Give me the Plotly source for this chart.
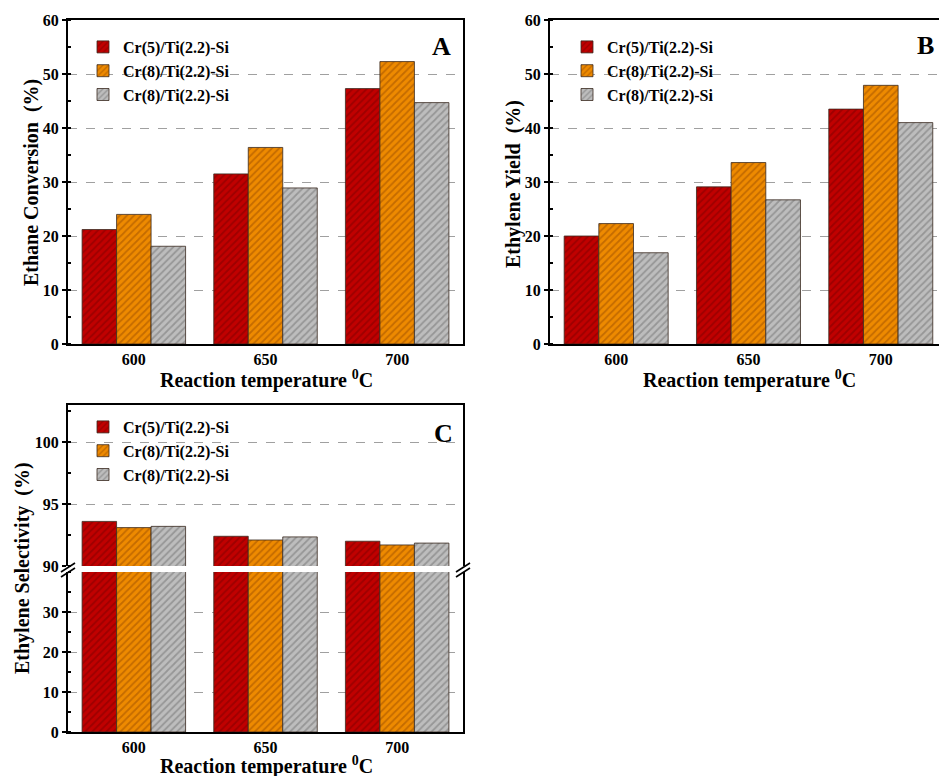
import plotly.graph_objects as go

# ---------------- data ----------------
categories = ["600", "650", "700"]
series_names = ["Cr(5)/Ti(2.2)-Si", "Cr(8)/Ti(2.2)-Si", "Cr(8)/Ti(2.2)-Si"]

conversion_red = [21.2, 31.5, 47.3]
conversion_orange = [24.0, 36.4, 52.3]
conversion_gray = [18.1, 28.9, 44.7]

yield_red = [20.0, 29.1, 43.5]
yield_orange = [22.3, 33.6, 47.9]
yield_gray = [16.9, 26.7, 41.0]

selectivity_red = [93.6, 92.4, 92.0]
selectivity_orange = [93.1, 92.1, 91.7]
selectivity_gray = [93.2, 92.35, 91.85]

y_ticks_main = [0, 10, 20, 30, 40, 50, 60]
y_ticks_low = [0, 10, 20, 30]
y_ticks_high = [90, 95, 100]

# ---------------- styles ----------------
base_colors = ["#c00000", "#ee8a00", "#bdbdbd"]
hatch_colors = ["#7a0000", "#9a4c00", "#707070"]
FONT = "Liberation Serif"
W, H = 939, 776


def px(x):
    return x / W


def py(y):
    return 1 - y / H


fig = go.Figure()


def add_bars(values_list, xa, ya, legend, showlegend=True):
    for i, vals in enumerate(values_list):
        fig.add_trace(go.Bar(
            x=categories, y=vals, name=series_names[i],
            xaxis=xa, yaxis=ya, legend=legend, showlegend=showlegend,
            marker=dict(
                color=base_colors[i],
                line=dict(color="#3a2a20", width=0.8),
                pattern=dict(shape="/", fgcolor=hatch_colors[i], size=5,
                             solidity=0.35, fillmode="overlay"),
            ),
        ))


add_bars([conversion_red, conversion_orange, conversion_gray], "x", "y", "legend")
add_bars([yield_red, yield_orange, yield_gray], "x2", "y2", "legend2")
add_bars([selectivity_red, selectivity_orange, selectivity_gray], "x3", "y3", "legend3")
add_bars([selectivity_red, selectivity_orange, selectivity_gray], "x4", "y4", "legend3", showlegend=False)

tickfont = dict(family=FONT, size=16, color="black", weight="bold")
grid = dict(showgrid=True, gridcolor="#a0a0a0", griddash="dash", gridwidth=1)

xcommon = dict(type="category", showline=True, linecolor="black", linewidth=2, ticks="",
               tickfont=tickfont, showgrid=False, zeroline=False, automargin=False)
ycommon = dict(showline=True, linecolor="black", linewidth=2, ticks="outside",
               ticklen=4, tickwidth=1.5, tickcolor="black", tickfont=tickfont,
               zeroline=False, automargin=False, **grid)

dom_left = [px(68), px(463)]
dom_right = [px(550), 1.0]
dom_top = [py(344), py(20)]

fig.update_layout(
    template="none",
    width=W, height=H, autosize=False,
    margin=dict(l=0, r=0, t=0, b=0, pad=0, autoexpand=False),
    paper_bgcolor="white", plot_bgcolor="white",
    barmode="group", bargap=0.214, bargroupgap=0,
    font=dict(family=FONT, color="black"),
    xaxis=dict(domain=dom_left, anchor="y", mirror=True, range=[-0.5, 2.5], **xcommon),
    yaxis=dict(domain=dom_top, anchor="x", mirror=True, range=[0, 60], tickvals=y_ticks_main,
               minor=dict(dtick=5, ticks="inside", ticklen=3, tickcolor="black", showgrid=False),
               **ycommon),
    xaxis2=dict(domain=dom_right, anchor="y2", mirror=True, range=[-0.5, 2.44], **xcommon),
    yaxis2=dict(domain=dom_top, anchor="x2", mirror=False, range=[0, 60], tickvals=y_ticks_main,
                minor=dict(dtick=5, ticks="inside", ticklen=3, tickcolor="black", showgrid=False),
                **ycommon),
    xaxis3=dict(domain=dom_left, anchor="y3", mirror=False, range=[-0.5, 2.5], **xcommon),
    yaxis3=dict(domain=[py(732), py(572)], anchor="x3", mirror=True, range=[0, 40],
                tickvals=y_ticks_low,
                minor=dict(dtick=5, ticks="inside", ticklen=3, tickcolor="black", showgrid=False),
                **ycommon),
    xaxis4=dict(domain=dom_left, anchor="y4", side="top", mirror=False, range=[-0.5, 2.5],
                showticklabels=False, **xcommon),
    yaxis4=dict(domain=[py(566), py(405)], anchor="x4", mirror=True, range=[90, 103],
                tickvals=y_ticks_high,
                minor=dict(dtick=2.5, ticks="inside", ticklen=3, tickcolor="black", showgrid=False),
                **ycommon),
)

legfont = dict(family=FONT, size=16, color="black", weight="bold")
legcommon = dict(font=legfont, bgcolor="rgba(0,0,0,0)", borderwidth=0,
                 xanchor="left", yanchor="top", tracegroupgap=0, itemwidth=30)
fig.update_layout(
    legend=dict(x=px(83), y=py(30), **legcommon),
    legend2=dict(x=px(567), y=py(30), **legcommon),
    legend3=dict(x=px(83), y=py(410), **legcommon),
)

ann = []
title_font = dict(family=FONT, size=20, color="black", weight="bold")
center = dict(xref="paper", yref="paper", showarrow=False, xanchor="center", yanchor="middle")
xt = "Reaction temperature <sup>0</sup>C"
ann.append(dict(text=xt, x=px(266), y=py(379), font=title_font, **center))
ann.append(dict(text=xt, x=px(749), y=py(379), font=title_font, **center))
ann.append(dict(text=xt, x=px(266), y=py(765), font=title_font, **center))
ann.append(dict(text="Ethane Conversion  (%)", x=px(31), y=py(183), textangle=-90, font=title_font, **center))
ann.append(dict(text="Ethylene Yield  (%)", x=px(513), y=py(184), textangle=-90, font=title_font, **center))
ann.append(dict(text="Ethylene Selectivity  (%)", x=px(22), y=py(568), textangle=-90, font=title_font, **center))
letter_font = dict(family=FONT, size=26, color="black", weight="bold")
ann.append(dict(text="A", x=px(441), y=py(46), font=letter_font, **center))
ann.append(dict(text="B", x=px(925), y=py(45), font=letter_font, **center))
ann.append(dict(text="C", x=px(443), y=py(433), font=letter_font, **center))
fig.update_layout(annotations=ann)

# axis-break marks
shapes = []
for xc in (68, 463):
    for dy in (0, 5):
        shapes.append(dict(type="line", xref="paper", yref="paper",
                           x0=px(xc - 7), y0=py(574 + dy - 2), x1=px(xc + 7), y1=py(565 + dy - 2),
                           line=dict(color="black", width=1.6)))
fig.update_layout(shapes=shapes)

fig.write_html("out.html")
